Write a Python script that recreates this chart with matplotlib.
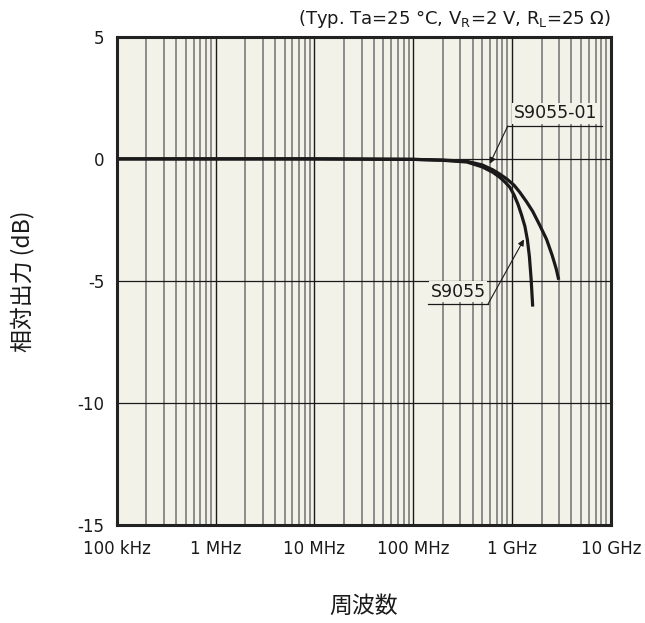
import numpy as np
import matplotlib.pyplot as plt
from matplotlib.ticker import FixedLocator, NullFormatter

plt.rcParams['font.family'] = ['DejaVu Sans']
plt.rcParams['axes.unicode_minus'] = False

# data (frequency in Hz, relative output in dB)
freq_s9055 = [1e5, 1e6, 1e7, 1e8, 2e8, 3.5e8, 5e8, 6.4e8, 7.5e8, 8.5e8, 9.5e8, 1.05e9, 1.15e9, 1.25e9,
              1.35e9, 1.43e9, 1.5e9, 1.56e9, 1.62e9]
db_s9055 = [0, 0, 0, -0.02, -0.06, -0.13, -0.33, -0.55, -0.75, -0.95, -1.16, -1.48, -1.86, -2.3,
            -2.76, -3.3, -4.0, -4.9, -6.05]

freq_s9055_01 = [1e5, 1e6, 1e7, 1e8, 2e8, 3.5e8, 5e8, 6.4e8, 7.5e8, 8.9e8, 1.05e9, 1.2e9, 1.4e9, 1.62e9,
                 1.9e9, 2.24e9, 2.55e9, 2.8e9, 2.97e9]
db_s9055_01 = [0, 0, 0, -0.02, -0.05, -0.1, -0.25, -0.45, -0.62, -0.83, -1.08, -1.37, -1.75, -2.15,
               -2.7, -3.3, -3.95, -4.5, -4.95]

xticks = [1e5, 1e6, 1e7, 1e8, 1e9, 1e10]
xtick_labels = ['100 kHz', '1 MHz', '10 MHz', '100 MHz', '1 GHz', '10 GHz']
yticks = [5, 0, -5, -10, -15]

bg = '#f3f2e9'

fig = plt.figure(figsize=(6.45, 6.23), dpi=100)
ax = fig.add_axes([0.181, 0.157, 0.766, 0.784])
ax.set_facecolor(bg)

ax.set_xscale('log')
ax.set_xlim(1e5, 1e10)
ax.set_ylim(-15, 5)

# grid
minor = [m * 10.0 ** e for e in range(5, 10) for m in range(2, 10)]
for x in minor:
    ax.axvline(x, color='#707070', lw=1.1, zorder=1)
for x in xticks:
    ax.axvline(x, color='#1a1a1a', lw=1.0, zorder=1)
for y in [0, -5, -10]:
    ax.axhline(y, color='#1a1a1a', lw=0.9, zorder=1)

ax.plot(freq_s9055, db_s9055, color='#1a1a1a', lw=2.3, zorder=3, solid_capstyle='butt')
ax.plot(freq_s9055_01, db_s9055_01, color='#1a1a1a', lw=2.3, zorder=3, solid_capstyle='butt')

ax.xaxis.set_major_locator(FixedLocator(xticks))
ax.xaxis.set_minor_locator(FixedLocator(minor))
ax.xaxis.set_minor_formatter(NullFormatter())
ax.set_xticks(xticks)
ax.set_xticklabels(xtick_labels)
ax.set_yticks(yticks)
ax.set_yticklabels([str(v) for v in yticks])
ax.tick_params(axis='both', which='both', length=0, labelsize=12, colors='#1a1a1a')
ax.tick_params(axis='x', pad=11)
ax.tick_params(axis='y', pad=9)

for s in ax.spines.values():
    s.set_linewidth(2.2)
    s.set_color('#222222')
    s.set_zorder(5)

# labels with leader lines
def tag(text, tx, ty, ux0, ux1, uy, ax_x, ax_y, start_left):
    ax.text(tx, ty, text, fontsize=12.5, ha='center', va='bottom', color='#1a1a1a', zorder=4,
            bbox=dict(facecolor=bg, edgecolor='none', pad=1.0))
    ax.plot([ux0, ux1], [uy, uy], color='#1a1a1a', lw=0.9, zorder=4)
    sx = ux0 if start_left else ux1
    ax.annotate('', xy=(ax_x, ax_y), xytext=(sx, uy),
                arrowprops=dict(arrowstyle='-|>', color='#1a1a1a', lw=0.8,
                                mutation_scale=9, shrinkA=0, shrinkB=0), zorder=4)

tag('S9055-01', 2.75e9, 1.5, 9.06e8, 8.1e9, 1.345, 5.96e8, -0.2, True)
tag('S9055', 2.85e8, -5.8, 1.41e8, 5.69e8, -5.96, 1.32e9, -3.3, False)

fig.text(0.947, 0.969, r'(Typ. Ta=25 °C, V$_\mathregular{R}$=2 V, R$_\mathregular{L}$=25 Ω)',
         ha='right', va='center', fontsize=13, color='#1a1a1a')

cjk = ['Noto Sans CJK JP', 'DejaVu Sans']
fig.text(0.035, 0.549, '相対出力 (dB)', rotation=90, ha='center', va='center',
         fontsize=16.5, family=cjk, color='#1a1a1a')
fig.text(0.564, 0.026, '周波数', ha='center', va='center', fontsize=16.5, family=cjk,
         color='#1a1a1a')

fig.savefig('out.png', dpi=100, facecolor='white')
